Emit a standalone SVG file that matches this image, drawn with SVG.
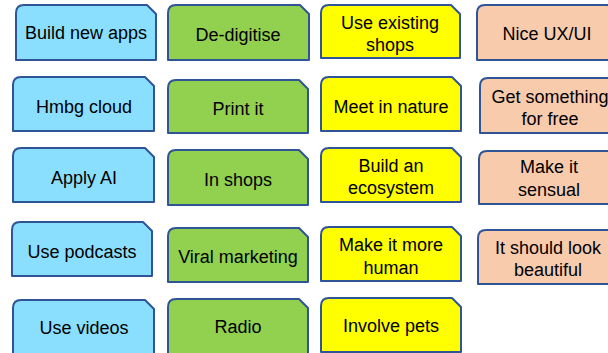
<svg xmlns="http://www.w3.org/2000/svg" width="608" height="353" viewBox="0 0 608 353">
<style>
.box{stroke:#2f5597;stroke-width:2;stroke-linejoin:round}
.blue{fill:#8adfff}
.green{fill:#92d050}
.yellow{fill:#ffff00}
.peach{fill:#f8cbad}
text{font-family:"Liberation Sans",Arial,sans-serif;font-size:18px;fill:#000;text-anchor:middle}
</style>
<rect width="608" height="353" fill="#fff"/>
<!-- Column 1 -->
<g id="build-new-apps"><path class="box blue" d="M16,60V13Q16,5 24,5H147L156,14V60Z"/><text x="86" y="39">Build new apps</text></g>
<g id="hmbg-cloud"><path class="box blue" d="M13,131V85Q13,77 21,77H145L154,86V131Z"/><text x="84" y="113">Hmbg cloud</text></g>
<g id="apply-ai"><path class="box blue" d="M13,202V156Q13,148 21,148H145L154,157V202Z"/><text x="84" y="184">Apply AI</text></g>
<g id="use-podcasts"><path class="box blue" d="M12,276V230Q12,222 20,222H143L152,231V276Z"/><text x="82" y="258">Use podcasts</text></g>
<g id="use-videos"><path class="box blue" d="M13,360V308Q13,300 21,300H145L154,309V360Z"/><text x="84" y="334">Use videos</text></g>
<!-- Column 2 -->
<g id="de-digitise"><path class="box green" d="M168,60V13Q168,5 176,5H300L309,14V60Z"/><text x="238" y="41">De-digitise</text></g>
<g id="print-it"><path class="box green" d="M168,133V88Q168,80 176,80H299L308,89V133Z"/><text x="238" y="115">Print it</text></g>
<g id="in-shops"><path class="box green" d="M168,205V158Q168,150 176,150H299L308,159V205Z"/><text x="238" y="186">In shops</text></g>
<g id="viral-marketing"><path class="box green" d="M168,282V236Q168,228 176,228H299L308,237V282Z"/><text x="238" y="263">Viral marketing</text></g>
<g id="radio"><path class="box green" d="M168,360V307Q168,299 176,299H299L308,308V360Z"/><text x="238" y="333">Radio</text></g>
<!-- Column 3 -->
<g id="use-existing-shops"><path class="box yellow" d="M321,58V13Q321,5 329,5H451L460,14V58Z"/><text x="390" y="29">Use existing</text><text x="390" y="51">shops</text></g>
<g id="meet-in-nature"><path class="box yellow" d="M321,131V85Q321,77 329,77H452L461,86V131Z"/><text x="391" y="113">Meet in nature</text></g>
<g id="build-an-ecosystem"><path class="box yellow" d="M321,202V156Q321,148 329,148H452L461,157V202Z"/><text x="391" y="172">Build an</text><text x="391" y="194">ecosystem</text></g>
<g id="make-it-more-human"><path class="box yellow" d="M321,281V235Q321,227 329,227H452L461,236V281Z"/><text x="391" y="251">Make it more</text><text x="391" y="274">human</text></g>
<g id="involve-pets"><path class="box yellow" d="M321,352V306Q321,298 329,298H452L461,307V352Z"/><text x="391" y="332">Involve pets</text></g>
<!-- Column 4 -->
<g id="nice-ux-ui"><path class="box peach" d="M477,60V13Q477,5 485,5H608L617,14V60Z"/><text x="547" y="40">Nice UX/UI</text></g>
<g id="get-something-for-free"><path class="box peach" d="M480,133V86Q480,78 488,78H611L620,87V133Z"/><text x="550" y="103">Get something</text><text x="550" y="125">for free</text></g>
<g id="make-it-sensual"><path class="box peach" d="M479,204V159Q479,151 487,151H610L619,160V204Z"/><text x="549" y="173">Make it</text><text x="549" y="196">sensual</text></g>
<g id="it-should-look-beautiful"><path class="box peach" d="M478,284V238Q478,230 486,230H609L618,239V284Z"/><text x="548" y="254">It should look</text><text x="548" y="276">beautiful</text></g>
</svg>
